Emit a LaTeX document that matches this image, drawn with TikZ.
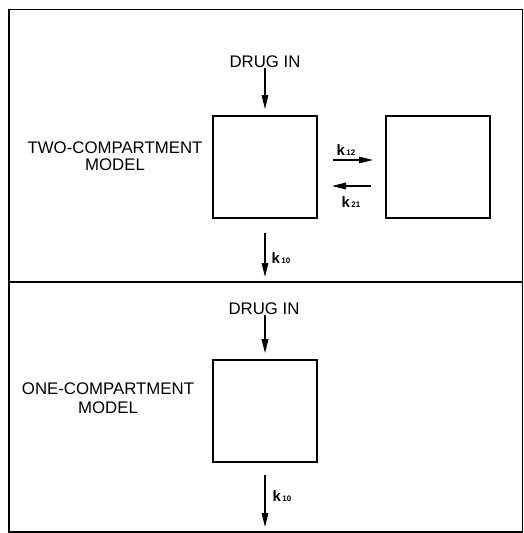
\documentclass[tikz,border=0pt]{standalone}
\usepackage{fontspec}
\setmainfont{Liberation Sans}
\usetikzlibrary{arrows.meta}
\begin{document}
\begin{tikzpicture}[x=1pt,y=-1pt,
  comp/.style={draw,line width=1.6pt,minimum width=104pt,minimum height=102pt,inner sep=0pt},
  lbl/.style={font=\fontsize{16.8}{16.5}\selectfont,inner sep=0pt,align=center},
  flow/.style={line width=1.4pt,-{Triangle[length=14pt,width=6.5pt]}},
  rate/.style={font=\fontsize{15}{15}\bfseries\selectfont,inner sep=0pt},
  frameline/.style={line width=1.4pt}]
\useasboundingbox (0,0) rectangle (524,533);
% frame
\draw[frameline] (9,9.5) rectangle (522.5,532);
\draw[frameline] (9,282) -- (522.5,282);
% ---- two-compartment model ----
\node[comp] (b1) at (265,167) {};
\node[comp] (b2) at (438,167) {};
\node[lbl] (din1) at (265,61.5) {DRUG IN};
\node[lbl,anchor=north] (two) at (115,142) {TWO-COMPARTMENT\\MODEL};
\coordinate (a12s) at (333,160);
\coordinate (a12e) at (373,160);
\coordinate (a21s) at (371,186);
\coordinate (a21e) at (332,186);
\coordinate (o1s) at (265,233);
\coordinate (o1e) at (265,277);
\draw[flow,shorten >=6pt] (din1.south) -- (b1.north);
\draw[flow] (a12s) -- (a12e);
\draw[flow] (a21s) -- (a21e);
\draw[flow] (o1s) -- (o1e);
\node[rate] (k12) at (346,150) {k{\fontsize{8}{8}\selectfont\,12}};
\node[rate] (k21) at (351,202) {k{\fontsize{8}{8}\selectfont\,21}};
\node[rate] (k10a) at (281,258) {k{\fontsize{8}{8}\selectfont\,10}};
% ---- one-compartment model ----
\node[comp] (b3) at (265,411) {};
\node[lbl] (din2) at (264,309) {DRUG IN};
\node[lbl,anchor=north] (one) at (108,383) {ONE-COMPARTMENT\\[2pt]MODEL};
\coordinate (o2s) at (265,475);
\coordinate (o2e) at (265,527);
\draw[flow,shorten >=6pt] (din2.south -| b3.north) -- (b3.north);
\draw[flow] (o2s) -- (o2e);
\node[rate] (k10b) at (282,496) {k{\fontsize{8}{8}\selectfont\,10}};
\end{tikzpicture}
\end{document}
